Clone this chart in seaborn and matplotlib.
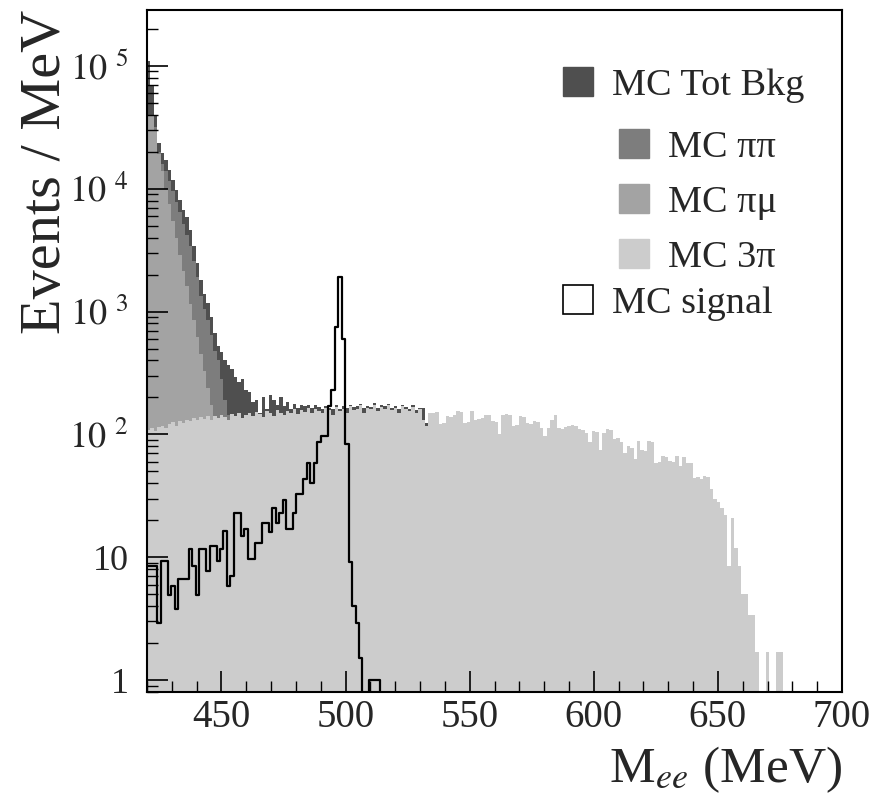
import numpy as np
import pandas as pd
import matplotlib
matplotlib.use("Agg")
import matplotlib.pyplot as plt
import seaborn as sns
from matplotlib.ticker import MultipleLocator, FixedLocator, FixedFormatter, LogLocator, NullFormatter
from matplotlib.patches import Patch

# ---------------- data (events / MeV, 1.4 MeV bins starting at 420 MeV) ----------------
x_min, x_max, n_bins = 420.0, 700.0, 200

mc_3pi = [
    108, 112, 106, 115, 118, 112, 122, 126, 118, 128,
    124, 132, 128, 136, 130, 138, 134, 142, 132, 140,
    136, 145, 138, 132, 146, 140, 150, 136, 144, 148,
    140, 152, 146, 138, 155, 148, 142, 158, 150, 145,
    156, 150, 162, 146, 158, 152, 165, 148, 160, 155,
    150, 164, 158, 145, 168, 155, 160, 150, 170, 158,
    162, 172, 150, 165, 160, 175, 155, 168, 160, 172,
    158, 165, 150, 170, 162, 155, 168, 148, 160,
    130, 118, 150, 148, 152, 121, 123, 141, 138, 143, 155,
    153, 124, 126, 155, 132, 134, 137, 145, 143, 128,
    126, 100, 145, 147, 143, 117, 119, 141, 139, 124,
    122, 128, 126, 113, 97, 113, 130, 145, 113, 111,
    114, 117, 119, 116, 110, 108, 103, 86, 107, 105,
    75, 103, 110, 108, 91, 93, 86, 71, 80, 78,
    63, 88, 75, 73, 88, 86, 59, 60, 67, 66,
    61, 60, 67, 55, 65, 59, 58, 44, 45, 43,
    46, 45, 36, 30, 28, 25, 22, 8.5, 21, 12,
    8.5, 5, 5, 3.4, 3.4, 1.7, 0, 0, 1.7, 0,
    0, 1.7, 1.7,
]

mc_pimu = [
    40000, 40000, 30000, 19000, 14000, 10000, 7500, 5500, 4000, 2900,
    2150, 1600, 1150, 850, 620, 450, 330, 240, 175, 130,
]

mc_pipi = [
    40000, 40000, 32000, 20000, 16000, 14000, 11500, 9500, 7800, 6500,
    5200, 4200, 3400, 2600, 1900, 1350, 1050, 850, 650, 480,
    405, 280, 190, 145,
]

mc_tot_bkg = [
    110000, 70000, 40000, 23500, 19500, 17000, 14200, 11800, 9800, 8100,
    6700, 5900, 4600, 3400, 2500, 1800, 1400, 1180, 910, 675,
    520, 465, 405, 370, 340, 295, 265, 280, 230, 220,
    182, 190, 150, 200, 160, 210, 190, 175, 200, 170,
    185, 160, 178, 165, 175, 170, 172, 165, 175, 168,
    160, 170, 165, 162, 172, 160, 170, 165, 175, 168,
    170, 178, 165, 170, 168, 180, 165, 172, 170, 178,
    165, 170, 160, 175, 168, 162, 172, 158, 165, 165,
    125,
]

mc_signal = [
    8.5, 8.5, 8.5, 2.9, 9.3, 9.3, 4.9, 5.8, 3.8, 6.6,
    6.6, 6.6, 11.6, 8.5, 4.9, 11.6, 11.6, 7.7, 12.4, 12.4,
    9.3, 11.6, 16.4, 5.8, 7.1, 23, 23, 15, 17, 9.6,
    9.6, 13, 13, 19, 19, 16, 25, 19, 23, 29,
    17, 17, 23, 33, 33, 43, 59, 40, 59, 86,
    97, 97, 170, 230, 750, 1900, 600, 83, 9.1, 4,
    2.9, 1.5, 0, 0, 1, 1, 1,
]

x_ticks = [450, 500, 550, 600, 650, 700]
y_ticks = [1, 10, 100, 1e3, 1e4, 1e5]
y_tick_labels = ["1", "10", r"$10^{\ \,2}$", r"$10^{\ \,3}$", r"$10^{\ \,4}$", r"$10^{\ \,5}$"]

legend_labels = ["MC Tot Bkg", "MC ππ", "MC πμ", "MC 3π", "MC signal"]

# ---------------- styling ----------------
sns.set_style("white")
plt.rcParams["font.family"] = ["Liberation Serif", "DejaVu Serif"]
plt.rcParams["mathtext.fontset"] = "stix"
plt.rcParams["axes.axisbelow"] = False

col_tot = "#4f4f4f"
col_pipi = "#7d7d7d"
col_pimu = "#a3a3a3"
col_3pi = "#cccccc"

edges = [float(e) for e in np.linspace(x_min, x_max, n_bins + 1)]
centers = [0.5 * (edges[i] + edges[i + 1]) for i in range(n_bins)]

fig = plt.figure(figsize=(8.72, 8.0), dpi=100)
ax = fig.add_axes([147 / 872, 1 - 692 / 800, (842 - 147) / 872, (692 - 10) / 800])
ax.set_axisbelow(False)
ax.set_yscale("log")


def layer(values, color):
    n = len(values)
    df = pd.DataFrame({"m": centers[:n], "w": values})
    sns.histplot(data=df, x="m", weights="w", bins=edges, element="step",
                 fill=True, color=color, alpha=1.0, linewidth=0, ax=ax)


layer(mc_tot_bkg, col_tot)
layer(mc_pipi, col_pipi)
layer(mc_pimu, col_pimu)
layer(mc_3pi, col_3pi)

sig_df = pd.DataFrame({"m": centers[:len(mc_signal)], "w": mc_signal})
sns.histplot(data=sig_df, x="m", weights="w", bins=edges, element="step",
             fill=False, color="black", linewidth=1.6, ax=ax)

ax.set_xlim(x_min, x_max)
ax.set_ylim(0.8, 2.85e5)

# ticks
ax.xaxis.set_major_locator(FixedLocator(x_ticks))
ax.xaxis.set_minor_locator(MultipleLocator(10))
ax.yaxis.set_major_locator(FixedLocator(y_ticks))
ax.yaxis.set_major_formatter(FixedFormatter(y_tick_labels))
ax.yaxis.set_minor_locator(LogLocator(base=10, subs=np.arange(2, 10)))
ax.yaxis.set_minor_formatter(NullFormatter())
ax.tick_params(axis="both", which="both", bottom=True, left=True, top=False, right=False,
               direction="in", color="black")
ax.tick_params(axis="both", which="major", length=15, width=1.2)
ax.tick_params(axis="both", which="minor", length=8, width=1.0)
ax.tick_params(axis="x", which="major", labelsize=28, pad=5)
ax.tick_params(axis="y", which="major", labelsize=26, pad=13)
for s in ax.spines.values():
    s.set_linewidth(1.5)
    s.set_color("black")
    s.set_visible(True)
    s.set_zorder(5)

ax.set_xlabel(r"M$_{ee}$ (MeV)", fontsize=37, loc="right", labelpad=6)
ax.set_ylabel("Events / MeV", fontsize=42, loc="top", labelpad=-2)

# legends
sq = dict(handlelength=0.78, handleheight=0.78, handletextpad=0.5, frameon=False,
          borderpad=0, borderaxespad=0, fontsize=27.5, loc="center left",
          bbox_transform=fig.transFigure)
legA = ax.legend(handles=[Patch(facecolor=col_tot, edgecolor=col_tot)],
                 labels=[legend_labels[0]], bbox_to_anchor=(563 / 872, 1 - 85 / 800), **sq)
ax.add_artist(legA)
legB = ax.legend(handles=[Patch(facecolor=c, edgecolor=c) for c in (col_pipi, col_pimu, col_3pi)],
                 labels=legend_labels[1:4], labelspacing=0.5,
                 bbox_to_anchor=(619 / 872, 1 - 202 / 800), **sq)
ax.add_artist(legB)
ax.legend(handles=[Patch(facecolor="white", edgecolor="black", linewidth=1.2)],
          labels=[legend_labels[4]], bbox_to_anchor=(563 / 872, 1 - 303 / 800), **sq)

fig.savefig("out.png", dpi=100)
